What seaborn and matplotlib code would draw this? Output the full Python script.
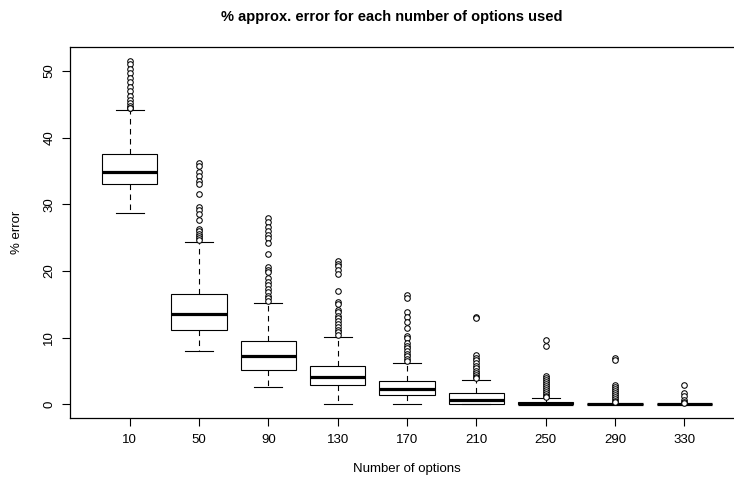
import pandas as pd
import matplotlib
matplotlib.use("Agg")
import matplotlib.pyplot as plt
import seaborn as sns

# number of options on the x axis
options = ["10", "50", "90", "130", "170", "210", "250", "290", "330"]

# box statistics (% error)
whisker_low = [28.7, 8.0, 2.55, 0.0, 0.0, 0.0, 0.0, 0.0, 0.0]
q1 = [33.0, 11.2, 5.15, 2.85, 1.45, 0.0, 0.0, 0.0, 0.0]
median = [34.9, 13.6, 7.25, 4.15, 2.25, 0.65, 0.1, 0.0, 0.0]
q3 = [37.5, 16.5, 9.45, 5.75, 3.5, 1.65, 0.3, 0.05, 0.05]
whisker_high = [44.2, 24.3, 15.2, 10.05, 6.25, 3.7, 1.0, 0.1, 0.1]

# outlying points per group
outliers = [
    [51.5, 51.0, 50.3, 49.7, 49.0, 48.3, 47.6, 47.0, 46.3, 45.7, 45.2, 44.8, 44.5, 44.4],
    [36.2, 35.8, 34.8, 34.3, 33.5, 33.1, 31.5, 29.6, 29.1, 28.5, 27.6, 26.3, 26.0, 25.6,
     25.2, 24.9, 24.6],
    [27.9, 27.3, 26.6, 26.0, 25.4, 24.9, 24.2, 22.5, 20.6, 20.2, 19.8, 19.0, 18.4, 17.9,
     17.3, 16.8, 16.3, 15.9, 15.5],
    [21.5, 21.1, 20.7, 20.2, 19.6, 17.0, 15.4, 15.0, 14.2, 13.8, 13.3, 12.9, 12.5, 12.0,
     11.6, 11.2, 10.8, 10.4],
    [16.4, 15.9, 13.9, 13.1, 12.3, 11.5, 10.3, 10.0, 9.2, 8.8, 8.4, 8.0, 7.6, 7.2, 6.8, 6.5],
    [13.1, 12.9, 7.4, 7.0, 6.6, 6.2, 5.8, 5.4, 5.0, 4.7, 4.4, 4.1, 3.9],
    [9.7, 8.8, 4.3, 4.0, 3.7, 3.4, 3.1, 2.8, 2.5, 2.2, 1.9, 1.6, 1.3, 1.1],
    [7.0, 6.7, 2.9, 2.6, 2.3, 2.0, 1.7, 1.4, 1.1, 0.8, 0.5, 0.3],
    [2.9, 1.7, 1.2, 0.7, 0.4, 0.2],
]

box_rows = []
for i, opt in enumerate(options):
    for v in (whisker_low[i], q1[i], median[i], q3[i], whisker_high[i]):
        box_rows.append({"options": opt, "error": v})
box_df = pd.DataFrame(box_rows)

out_rows = []
for opt, pts in zip(options, outliers):
    for v in pts:
        out_rows.append({"options": opt, "error": v})
out_df = pd.DataFrame(out_rows)

plt.rcParams["font.family"] = ["Liberation Sans", "DejaVu Sans"]

W, H = 734, 482
fig = plt.figure(figsize=(W / 100, H / 100), dpi=100)
ax = fig.add_axes([70 / W, 64 / H, 674 / W, 371 / H])

sns.boxplot(
    data=box_df, x="options", y="error", order=options, ax=ax,
    whis=(0, 100), showfliers=False, width=0.8,
    color="white", linecolor="black", linewidth=0.8,
    medianprops=dict(linewidth=2.3, color="black"),
    whiskerprops=dict(linestyle=(0, (5, 4))),
)
sns.stripplot(
    data=out_df, x="options", y="error", order=options, ax=ax,
    jitter=False, color="white", edgecolor="black", linewidth=0.75, size=4,
)

ax.set_xlim(-0.86, 8.86)
ax.set_ylim(-2.06, 53.6)
ax.set_yticks([0, 10, 20, 30, 40, 50])
ax.set_xlabel("")
ax.set_ylabel("")
ax.tick_params(direction="out", length=5.5, width=0.8, color="black",
               labelsize=9.5, labelcolor="black")
ax.tick_params(axis="x", pad=6)
ax.tick_params(axis="y", pad=5, labelrotation=90)
for lab in ax.get_yticklabels():
    lab.set_va("center")
for s in ax.spines.values():
    s.set_linewidth(0.9)
    s.set_color("black")

fig.text(392 / W, 1 - 17 / H, "% approx. error for each number of options used",
         ha="center", va="center", fontsize=10.5, fontweight="bold")
fig.text(407 / W, 1 - 469 / H, "Number of options", ha="center", va="center", fontsize=9.5)
fig.text(17 / W, 1 - 232 / H, "% error", ha="center", va="center", rotation=90, fontsize=9.5)

fig.savefig("out.png", dpi=100)
